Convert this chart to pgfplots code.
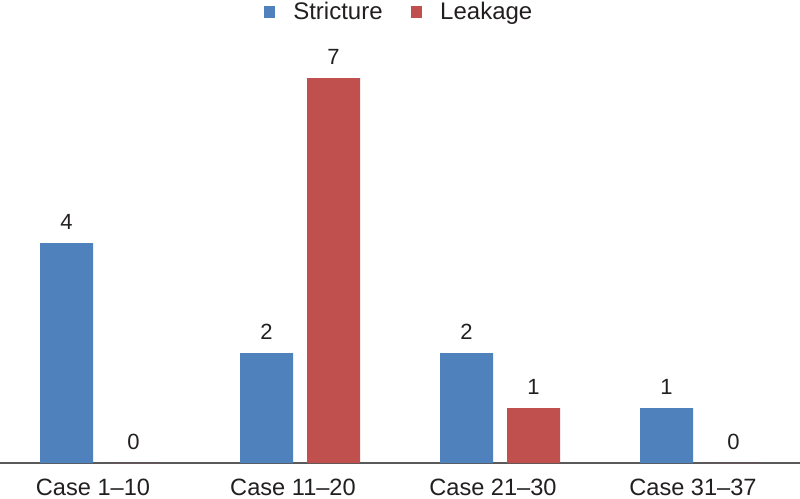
\documentclass[border=0pt]{standalone}
\usepackage{fontspec}
\setmainfont{Liberation Sans}
\usepackage{pgfplots}
\pgfplotsset{compat=1.18}
\definecolor{strictureblue}{HTML}{4F81BD}
\definecolor{leakagered}{HTML}{C0504D}
\definecolor{txt}{HTML}{231F20}
\begin{document}
\begin{tikzpicture}
\begin{axis}[
    scale only axis,
    width=400pt, height=211.5pt,
    ybar=7pt, bar width=26.5pt,
    xmin=-0.5, xmax=3.5,
    ymin=0, ymax=7.6909,
    axis x line*=bottom,
    axis y line=none,
    x axis line style={draw=black!65, line width=0.6pt, -},
    xtick=data,
    xticklabels={Case 1–10, Case 11–20, Case 21–30, Case 31–37},
    major tick length=0pt,
    xticklabel style={font=\fontsize{11.8}{13}\selectfont, text=txt, yshift=-4.3pt, xshift=-3.5pt},
    nodes near coords,
    every node near coord/.append style={font=\fontsize{11}{13}\selectfont, text=txt, yshift=3pt},
    /pgf/number format/assume math mode=true,
    legend style={at={(0.5,1)}, anchor=center, yshift=14pt, draw=none, fill=none,
        legend columns=2, font=\fontsize{12}{13}\selectfont, text=txt,
        /tikz/every even column/.append style={column sep=12pt}},
    legend image code/.code={\fill[#1] (0pt,-2.9pt) rectangle (5.8pt,2.9pt);},
    clip=false,
]
\addplot[fill=strictureblue, draw=none] coordinates {(0,4) (1,2) (2,2) (3,1)};
\addlegendentry{\hspace{7pt}Stricture}
\addplot[fill=leakagered, draw=none] coordinates {(0,0) (1,7) (2,1) (3,0)};
\addlegendentry{\hspace{7pt}Leakage}
\coordinate (sw) at (rel axis cs:0,0);
\end{axis}
\pgfresetboundingbox
\path ([yshift=-18pt]sw) rectangle ([xshift=400pt, yshift=231.5pt]sw);
\end{tikzpicture}
\end{document}
